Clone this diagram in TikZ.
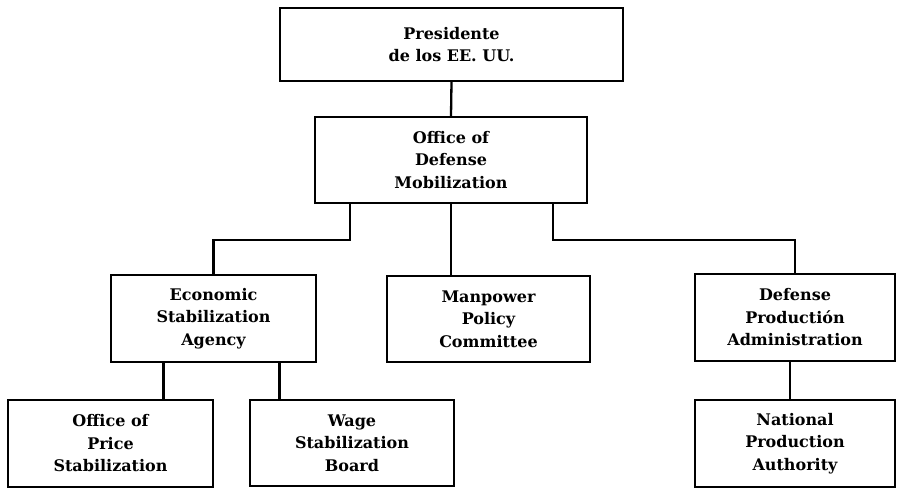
\documentclass[tikz,border=0pt]{standalone}
\usepackage{fontspec}
\setmainfont{DejaVu Serif}
\begin{document}
\begin{tikzpicture}[x=1pt,y=-1pt,
  orgbox/.style={draw=black, line width=1.8pt, rectangle, inner sep=0pt, align=center,
    font=\bfseries\fontsize{16}{22.5}\selectfont, text=black},
  link/.style={draw=black, line width=2.3pt}]
\useasboundingbox (0,0) rectangle (897,488);
\node[orgbox, minimum width=343pt, minimum height=73pt] (pres) at (451.5,44.5) {Presidente\\de los EE. UU.};
\node[orgbox, minimum width=272pt, minimum height=86pt] (odm) at (451,160) {Office of\\Defense\\Mobilization};
\node[orgbox, minimum width=205pt, minimum height=87pt] (esa) at (213.5,318.5) {Economic\\Stabilization\\Agency};
\node[orgbox, minimum width=203pt, minimum height=86pt] (mpc) at (488.5,319) {Manpower\\Policy\\Committee};
\node[orgbox, minimum width=200pt, minimum height=87pt] (dpa) at (795,317.5) {Defense\\Productión\\Administration};
\node[orgbox, minimum width=205pt, minimum height=87pt] (ops) at (110.5,443.5) {Office of\\Price\\Stabilization};
\node[orgbox, minimum width=204pt, minimum height=86pt] (wsb) at (352,443) {Wage\\Stabilization\\Board};
\node[orgbox, minimum width=200pt, minimum height=87pt] (npa) at (795,443.5) {National\\Production\\Authority};
% connectors
\draw[link] (pres.south) -- (odm.north);
\draw[link] ([xshift=-101pt]odm.south) -- ++(0,36) -| (esa.north);
\draw[link] (odm.south) -- (odm.south |- mpc.north);
\draw[link] ([xshift=102pt]odm.south) -- ++(0,36) -| (dpa.north);
\draw[link] ([xshift=-50pt]esa.south) -- ([xshift=-50pt]esa.south |- ops.north);
\draw[link] ([xshift=66pt]esa.south) -- ([xshift=66pt]esa.south |- wsb.north);
\draw[link] ([xshift=-5pt]dpa.south) -- ([xshift=-5pt]dpa.south |- npa.north);
\end{tikzpicture}
\end{document}
